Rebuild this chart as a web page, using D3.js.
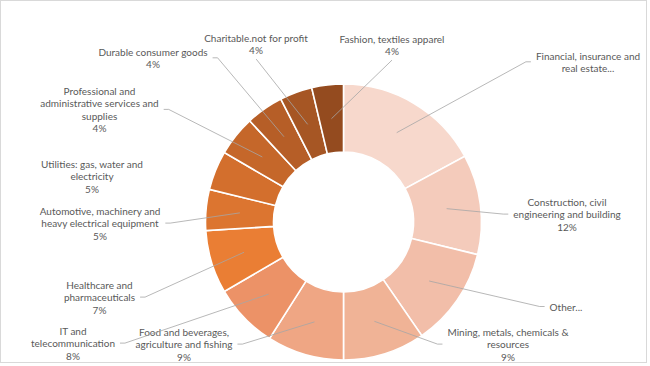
<!DOCTYPE html>
<html>
<head>
<meta charset="utf-8">
<script src="https://cdn.jsdelivr.net/npm/d3@7"></script>
<style>
  body { margin: 0; background: #fff; }
  svg { display: block; }
</style>
</head>
<body>
<svg id="chart" width="650" height="366"></svg>
<script>
// sector shares, clockwise from 12 o'clock
var categories = [
  "Financial, insurance and\nreal estate...",
  "Construction, civil\nengineering and building",
  "Other...",
  "Mining, metals, chemicals &\nresources",
  "Food and beverages,\nagriculture and fishing",
  "IT and\ntelecommunication",
  "Healthcare and\npharmaceuticals",
  "Automotive, machinery and\nheavy electrical equipment",
  "Utilities: gas, water and\nelectricity",
  "Professional and\nadministrative services and\nsupplies",
  "Durable consumer goods",
  "Charitable.not for profit",
  "Fashion, textiles apparel"
];
var values = [17.1, 11.7, 11.6, 9.6, 9.0, 7.6, 7.4, 4.8, 4.6, 4.7, 4.4, 3.8, 3.7];
// percentage text as shown (truncated labels show none)
var pctLabels = ["", "12%", "", "9%", "9%", "8%", "7%", "5%", "5%", "4%", "4%", "4%", "4%"];

var colors = ["#f7d8cc", "#f4cbbb", "#f2bea9", "#f0b396", "#efa684", "#ec9267",
              "#ea7e34", "#dc7530", "#d36f2d", "#c5672a", "#b65e27", "#a65624", "#944b1f"];

// label layout: centre x, first line y, where the leader meets the label
var labelPos = [
  [588, 56, "right"], [567, 202, "right"], [566, 307, "right"], [508, 332, "right"],
  [184, 332, "left"], [73, 331, "left"], [99.5, 285, "left"], [100, 211, "left"],
  [92, 164, "none"], [99.5, 91, "left"], [153, 52, "left"], [256, 38, "top"], [392, 39, "top"]
];

var svg = d3.select("#chart"),
    cx = 343.5, cy = 222,
    outerR = 138, innerR = 70,
    lineH = 12.6;

svg.append("rect")
  .attr("x", 0.5).attr("y", 0.5)
  .attr("width", 646).attr("height", 362)
  .style("fill", "#fff")
  .style("stroke", "#d9d9d9");

var pie = d3.pie().sort(null).value(function(d) { return d; });
var arc = d3.arc().innerRadius(innerR).outerRadius(outerR);
var arcs = pie(values);

var g = svg.append("g").attr("transform", "translate(" + cx + "," + cy + ")");

g.selectAll("path.slice")
  .data(arcs)
  .enter()
  .append("path")
  .attr("class", "slice")
  .attr("d", arc)
  .style("fill", function(d, i) { return colors[i]; })
  .style("stroke", "#fff")
  .style("stroke-width", 1.6);

// labels
var labels = svg.append("g")
  .style("font-family", "Lato, 'Open Sans', sans-serif")
  .style("font-size", "10px")
  .style("fill", "#595959");

var boxes = [];
categories.forEach(function(name, i) {
  var lines = name.split("\n");
  if (pctLabels[i]) lines.push(pctLabels[i]);
  var t = labels.append("text")
    .attr("text-anchor", "middle");
  lines.forEach(function(line, k) {
    t.append("tspan")
      .attr("x", labelPos[i][0])
      .attr("y", labelPos[i][1] + k * lineH)
      .attr("dy", "0.35em")
      .text(line);
  });
  boxes.push(t.node().getBBox());
});

// leader lines from slice centroid to label
var leaders = svg.append("g")
  .style("fill", "none")
  .style("stroke", "#a6a6a6")
  .style("stroke-width", 0.8);

arcs.forEach(function(d, i) {
  var side = labelPos[i][2];
  if (side == "none") return;
  var c = arc.centroid(d),
      sx = cx + c[0], sy = cy + c[1],
      b = boxes[i],
      midY = b.y + b.height / 2,
      pts;
  if (side == "top") {
    pts = [[sx, sy], [b.x + b.width / 2, b.y + b.height + 3]];
  } else if (side == "left") {
    var ex = b.x + b.width + 5;
    pts = [[sx, sy], [ex + 5, midY], [ex, midY]];
  } else {
    var ex2 = b.x - 5;
    pts = [[sx, sy], [ex2 - 5, midY], [ex2, midY]];
  }
  leaders.append("path")
    .attr("d", d3.line()(pts));
});
</script>
</body>
</html>
